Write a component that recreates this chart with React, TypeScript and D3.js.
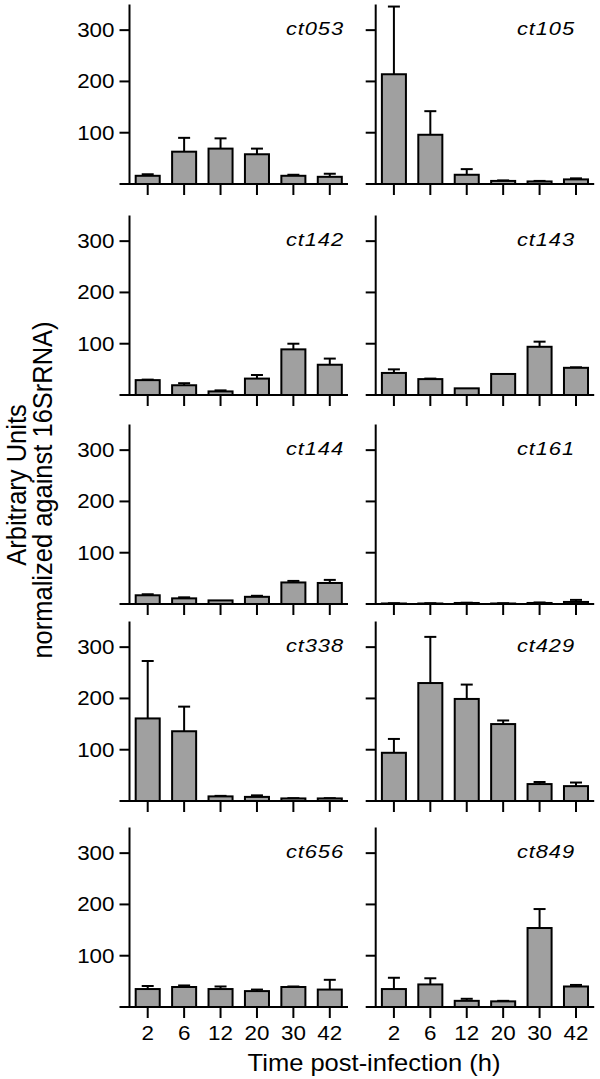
import React from "react";
import * as d3 from "d3";

const times = ["2", "6", "12", "20", "30", "42"];
const genes = ["ct053", "ct105", "ct142", "ct143", "ct144", "ct161", "ct338", "ct429", "ct656", "ct849"];
const ct053 = [16, 63, 69, 58, 16, 14];
const ct053Err = [3, 27, 20, 11, 2, 6];
const ct105 = [214, 96, 18, 6, 5, 9];
const ct105Err = [132, 46, 11, 1, 1, 2];
const ct142 = [29, 19, 7, 32, 89, 59];
const ct142Err = [1, 4, 2, 7, 11, 12];
const ct143 = [43, 31, 13, 41, 94, 53];
const ct143Err = [7, 1, 0, 0, 10, 1];
const ct144 = [17, 11, 7, 14, 42, 41];
const ct144Err = [2, 2, 0, 2, 3, 6];
const ct161 = [1, 1, 2, 1, 2, 4];
const ct161Err = [0.5, 0.5, 0.5, 0.5, 1, 4];
const ct338 = [161, 136, 9, 8, 5, 5];
const ct338Err = [112, 48, 1, 3, 0.5, 0.5];
const ct429 = [94, 230, 199, 150, 33, 29];
const ct429Err = [27, 90, 28, 7, 4, 7];
const ct656 = [35, 39, 35, 31, 39, 34];
const ct656Err = [6, 3, 5, 3, 1, 19];
const ct849 = [35, 44, 12, 11, 154, 40];
const ct849Err = [22, 12, 4, 1, 37, 3];
const yTicks = [100, 200, 300];

const values = [ct053, ct105, ct142, ct143, ct144, ct161, ct338, ct429, ct656, ct849];
const errors = [ct053Err, ct105Err, ct142Err, ct143Err, ct144Err, ct161Err, ct338Err, ct429Err, ct656Err, ct849Err];

const W = 600;
const H = 1079;
const colX = [129.5, 375.7];
const labelRight = [344, 575];
const rowBase = [184, 395, 604, 801, 1007];
const plotW = 218.5;
const plotH = 179.5;
const FONT = "Liberation Sans, Arial, Helvetica, sans-serif";
const SX = 1.12;

function Panel({ idx }: { idx: number }) {
  const col = idx % 2;
  const row = Math.floor(idx / 2);
  const x0 = colX[col];
  const base = rowBase[row];
  const x = d3.scaleBand<string>().domain(times).range([x0, x0 + plotW]).paddingInner(0.34).paddingOuter(0.17);
  const y = d3.scaleLinear().domain([0, 350]).range([base, base - plotH]);
  const vals = values[idx];
  const errs = errors[idx];
  const bw = x.bandwidth();
  const cap = 12;
  return (
    <g>
      {vals.map((v, i) => {
        const cx = (x(times[i]) as number) + bw / 2;
        const top = y(v);
        const et = y(v + errs[i]);
        return (
          <g key={i}>
            {errs[i] > 0 && (
              <g stroke="#000" strokeWidth={2}>
                <line x1={cx} x2={cx} y1={top} y2={et} />
                <line x1={cx - cap / 2} x2={cx + cap / 2} y1={et} y2={et} />
              </g>
            )}
            <rect x={x(times[i])} y={top} width={bw} height={base - top} fill="#a0a0a0" stroke="#000" strokeWidth={2} />
          </g>
        );
      })}
      <line x1={x0} x2={x0} y1={base} y2={y(350)} stroke="#000" strokeWidth={2} />
      <line x1={x0 - 10} x2={x0 + plotW} y1={base} y2={base} stroke="#000" strokeWidth={2} />
      {yTicks.map((t) => (
        <g key={t}>
          <line x1={x0 - 10} x2={x0} y1={y(t)} y2={y(t)} stroke="#000" strokeWidth={2} />
          {col === 0 && (
            <text
              transform={`translate(${x0 - 15},${y(t) + 7}) scale(${SX},1)`}
              textAnchor="end"
              fontSize={20}
              fontFamily={FONT}
              fill="#000"
            >
              {t}
            </text>
          )}
        </g>
      ))}
      {times.map((t) => {
        const cx = (x(t) as number) + bw / 2;
        return (
          <g key={t}>
            <line x1={cx} x2={cx} y1={base} y2={base + 11} stroke="#000" strokeWidth={2} />
            {row === 4 && (
              <text
                transform={`translate(${cx},${base + 33}) scale(${SX},1)`}
                textAnchor="middle"
                fontSize={20}
                fontFamily={FONT}
                fill="#000"
              >
                {t}
              </text>
            )}
          </g>
        );
      })}
      <text
        transform={`translate(${labelRight[col]},${y(300) + 5}) scale(1.15,1)`}
        textAnchor="end"
        fontSize={19}
        fontStyle="italic"
        letterSpacing={0.8}
        fontFamily={FONT}
        fill="#000"
      >
        {genes[idx]}
      </text>
    </g>
  );
}

export default function App() {
  return (
    <svg
      width={W}
      height={H}
      style={{ position: "absolute", left: 0, top: 0, background: "#fff" }}
    >
      <rect x={0} y={0} width={W} height={H} fill="#fff" />
      {genes.map((g, i) => (
        <Panel key={g} idx={i} />
      ))}
      <text
        transform={`translate(374,1071) scale(1.11,1)`}
        textAnchor="middle"
        fontSize={23}
        fontFamily={FONT}
        fill="#000"
      >
        Time post-infection (h)
      </text>
      <text
        transform={`translate(25.5,485) scale(${SX},1) rotate(-90)`}
        textAnchor="middle"
        fontSize={25.5}
        fontFamily={FONT}
        fill="#000"
      >
        Arbitrary Units
      </text>
      <text
        transform={`translate(52,490) scale(${SX},1) rotate(-90)`}
        textAnchor="middle"
        fontSize={25.5}
        fontFamily={FONT}
        fill="#000"
      >
        normalized against 16SrRNA)
      </text>
    </svg>
  );
}
